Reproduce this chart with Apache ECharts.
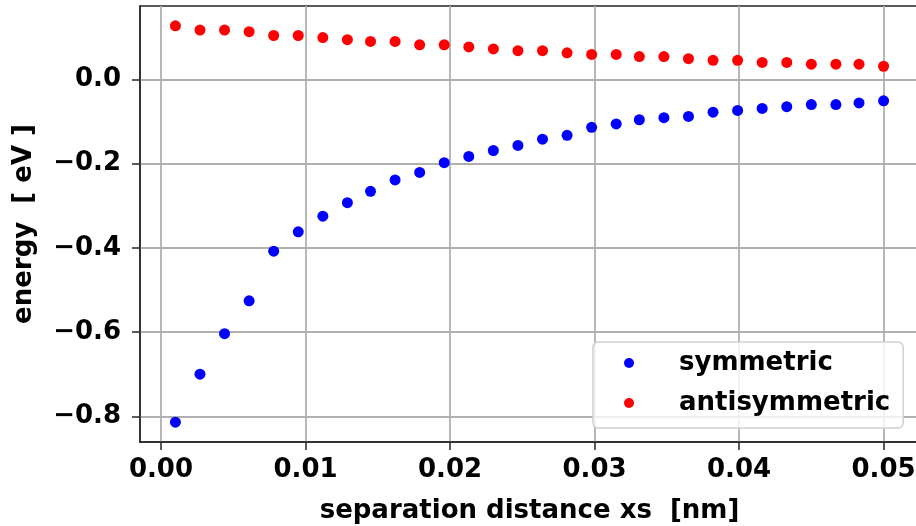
<!DOCTYPE html>
<html>
<head>
<meta charset="utf-8">
<script src="https://cdn.jsdelivr.net/npm/echarts@6/dist/echarts.min.js"></script>
<style>
  html, body { margin: 0; padding: 0; background: #ffffff; }
  #chart { width: 916px; height: 526px; }
</style>
</head>
<body>
<div id="chart"></div>
<script>
// Separation distance xs in nm
const separation = [
  0.0010, 0.0027, 0.0044, 0.0061, 0.0078, 0.0095, 0.0112, 0.0129, 0.0145, 0.0162,
  0.0179, 0.0196, 0.0213, 0.0230, 0.0247, 0.0264, 0.0281, 0.0298, 0.0315, 0.0331,
  0.0348, 0.0365, 0.0382, 0.0399, 0.0416, 0.0433, 0.0450, 0.0467, 0.0483, 0.0500
];
// Energies in eV
const symmetric = [
  -0.814, -0.700, -0.604, -0.526, -0.408, -0.362, -0.325, -0.293, -0.266, -0.239,
  -0.221, -0.198, -0.183, -0.169, -0.157, -0.142, -0.133, -0.114, -0.106, -0.096,
  -0.091, -0.088, -0.078, -0.074, -0.069, -0.065, -0.060, -0.060, -0.056, -0.051
];
const antisymmetric = [
  0.127, 0.117, 0.117, 0.113, 0.104, 0.104, 0.099, 0.094, 0.090, 0.090,
  0.082, 0.082, 0.077, 0.072, 0.068, 0.068, 0.063, 0.059, 0.059, 0.054,
  0.054, 0.049, 0.045, 0.045, 0.040, 0.040, 0.036, 0.036, 0.036, 0.031
];
const xTicks = [0.00, 0.01, 0.02, 0.03, 0.04, 0.05];
const yTicks = [-0.8, -0.6, -0.4, -0.2, 0.0];

const FONT = 'DejaVu Sans';
const AXIS_COLOR = '#262626';
const GRID_COLOR = '#b0b0b0';

// Axis limits padded by 5% of the data span on each side
function padded(values) {
  const lo = Math.min(...values), hi = Math.max(...values);
  const pad = (hi - lo) * 0.05;
  return [lo - pad, hi + pad];
}
const xRange = padded(separation);
const yRange = padded(symmetric.concat(antisymmetric));

const pairs = (xs, ys) => xs.map((x, i) => [x, ys[i]]);
const minusFmt = (v, digits) => (v < -1e-12 ? '\u2212' : '') + Math.abs(v).toFixed(digits);

const chart = echarts.init(document.getElementById('chart'), null, { renderer: 'canvas' });
chart.setOption({
  animation: false,
  backgroundColor: '#ffffff',
  grid: {
    left: 140, top: 6, width: 779, height: 436,
    outerBoundsMode: 'none',
    containLabel: false,
    show: true, borderColor: AXIS_COLOR, borderWidth: 1.5,
    backgroundColor: 'transparent'
  },
  xAxis: {
    type: 'value',
    min: xRange[0], max: xRange[1],
    name: 'separation distance xs  [nm]',
    nameLocation: 'middle',
    nameGap: 56,
    nameTextStyle: { fontFamily: FONT, fontWeight: 'bold', fontSize: 26, color: '#000' },
    axisLine: { show: true, onZero: false, lineStyle: { color: AXIS_COLOR, width: 1.5 } },
    axisTick: { show: true, inside: false, length: 8, customValues: xTicks,
                lineStyle: { color: AXIS_COLOR, width: 1.5 } },
    axisLabel: { customValues: xTicks, margin: 15, fontFamily: FONT, fontWeight: 'bold',
                 fontSize: 26, color: '#000', formatter: v => minusFmt(v, 2) },
    splitLine: { show: true, lineStyle: { color: GRID_COLOR, width: 1.8 } }
  },
  yAxis: {
    type: 'value',
    min: yRange[0], max: yRange[1],
    name: 'energy  [ eV ]',
    nameLocation: 'middle',
    nameGap: 103,
    nameRotate: 90,
    nameTextStyle: { fontFamily: FONT, fontWeight: 'bold', fontSize: 26, color: '#000' },
    axisLine: { show: true, onZero: false, lineStyle: { color: AXIS_COLOR, width: 1.5 } },
    axisTick: { show: true, inside: false, length: 8, customValues: yTicks,
                lineStyle: { color: AXIS_COLOR, width: 1.5 } },
    axisLabel: { customValues: yTicks, margin: 19, fontFamily: FONT, fontWeight: 'bold',
                 fontSize: 26, color: '#000', formatter: v => minusFmt(v, 1) },
    splitLine: { show: true, lineStyle: { color: GRID_COLOR, width: 1.8 } }
  },
  legend: {
    orient: 'vertical',
    left: 593, top: 342,
    padding: [6, 13, 10, 31],
    itemGap: 10,
    itemWidth: 10, itemHeight: 10,
    icon: 'circle',
    backgroundColor: 'rgba(255,255,255,0.8)',
    borderColor: '#d0d0d0', borderWidth: 1.5, borderRadius: 5,
    textStyle: { fontFamily: FONT, fontWeight: 'bold', fontSize: 26, color: '#000',
                 lineHeight: 30, padding: [0, 0, 0, 40] },
    data: ['symmetric', 'antisymmetric']
  },
  series: [
    {
      name: 'symmetric', type: 'scatter', symbol: 'circle', symbolSize: 11,
      itemStyle: { color: '#0000ff', opacity: 1 },
      data: pairs(separation, symmetric)
    },
    {
      name: 'antisymmetric', type: 'scatter', symbol: 'circle', symbolSize: 11,
      itemStyle: { color: '#ff0000', opacity: 1 },
      data: pairs(separation, antisymmetric)
    }
  ]
});
</script>
</body>
</html>
